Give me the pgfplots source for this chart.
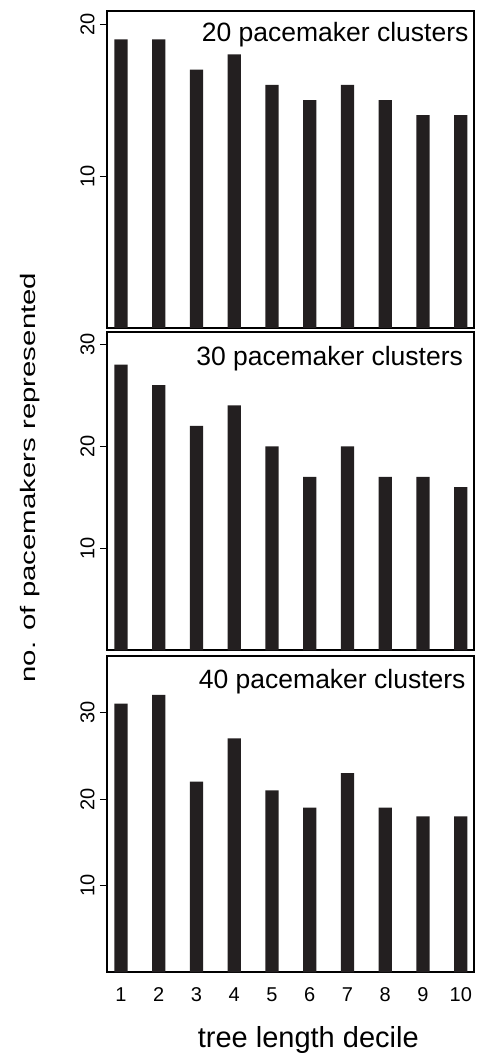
\documentclass[border=0pt]{standalone}
\usepackage{fontspec}
\setmainfont{Liberation Sans}
\usepackage{graphicx}
\usepackage{pgfplots}
\usepackage{pgfplotstable}
\pgfplotsset{compat=1.18}
\definecolor{barc}{RGB}{35,31,32}

\pgfplotstableread{
x y
1 19
2 19
3 17
4 18
5 16
6 15
7 16
8 15
9 14
10 14
}\tA
\pgfplotstableread{
x y
1 28
2 26
3 22
4 24
5 20
6 17
7 20
8 17
9 17
10 16
}\tB
\pgfplotstableread{
x y
1 31
2 32
3 22
4 27
5 21
6 19
7 23
8 19
9 18
10 18
}\tC

\tikzset{ptxt/.style={anchor=base east, inner sep=0pt, font=\fontsize{13.25}{15}\selectfont}}
\pgfplotsset{
  panel/.style={
    scale only axis, width=183.5pt, anchor=south west,
    xmin=0.63, xmax=10.35, ymin=0,
    axis line style={line width=1pt},
    xtick={1,...,10}, xtick style={draw=none},
    tick align=outside, major tick length=3.5pt,
    ytick style={line width=0.5pt, black},
    ytick pos=left, xtick pos=bottom,
    tick label style={font=\fontsize{10}{12}\selectfont},
    /pgf/number format/assume math mode=true,
    yticklabel style={xshift=-2.85pt, rotate=90, anchor=base},
  },
}

\begin{document}
\begin{tikzpicture}
\useasboundingbox (0,0) rectangle (239pt,528.5pt);
\begin{axis}[panel, at={(53.5pt,364.5pt)}, height=158.5pt, ymax=20.86, ytick={10,20}, xticklabels={}]
\addplot[ybar, bar width=6.7pt, fill=barc, draw=none] table[x=x,y=y] {\tA};
\node[ptxt] at (axis description cs:0.986,0.903) {20 pacemaker clusters};
\end{axis}
\begin{axis}[panel, at={(53.5pt,203.25pt)}, height=159.1pt, ymax=31.17, ytick={10,20,30}, xticklabels={},
  ylabel={\scalebox{1.4}[1]{no. of pacemakers represented}},
  ylabel style={at={(axis description cs:-0.1935,0.5435)}, anchor=base, font=\fontsize{10.5}{12}\selectfont}]
\addplot[ybar, bar width=6.7pt, fill=barc, draw=none] table[x=x,y=y] {\tB};
\node[ptxt] at (axis description cs:0.971,0.896) {30 pacemaker clusters};
\end{axis}
\begin{axis}[panel, at={(53.5pt,42.25pt)}, height=158.25pt, ymax=36.49, ytick={10,20,30},
  xticklabel style={anchor=base, yshift=-11pt},
  xlabel={tree length decile},
  xlabel style={at={(axis description cs:0.5485,0)}, anchor=base, yshift=-37.4pt, font=\fontsize{14.5}{16}\selectfont}]
\addplot[ybar, bar width=6.7pt, fill=barc, draw=none] table[x=x,y=y] {\tC};
\node[ptxt] at (axis description cs:0.978,0.898) {40 pacemaker clusters};
\end{axis}
\end{tikzpicture}
\end{document}
